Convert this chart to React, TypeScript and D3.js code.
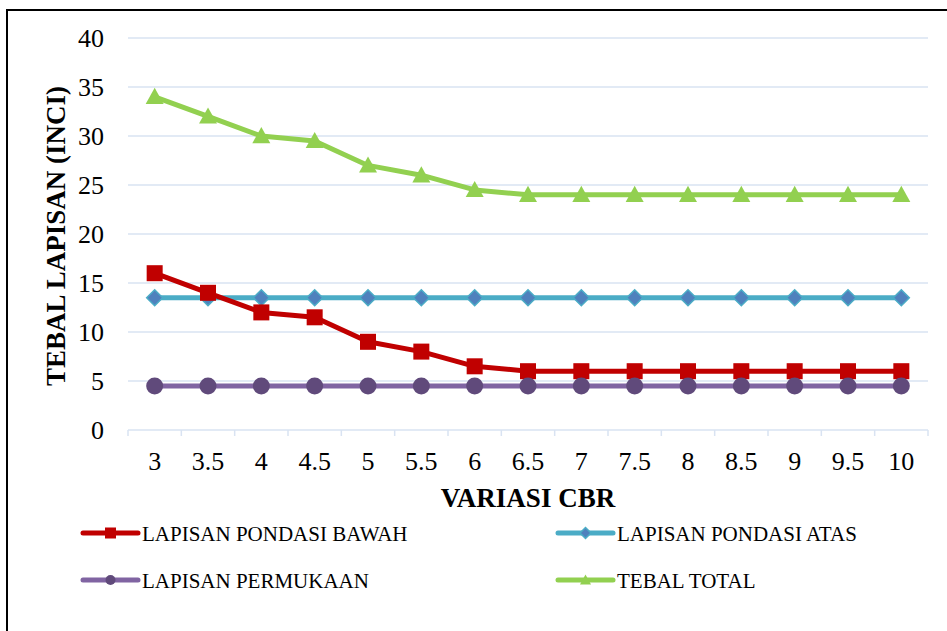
import React from 'react'
import * as d3 from 'd3'

const categories = ['3', '3.5', '4', '4.5', '5', '5.5', '6', '6.5', '7', '7.5', '8', '8.5', '9', '9.5', '10']
const pondasiBawah = [16, 14, 12, 11.5, 9, 8, 6.5, 6, 6, 6, 6, 6, 6, 6, 6]
const pondasiAtas = [13.5, 13.5, 13.5, 13.5, 13.5, 13.5, 13.5, 13.5, 13.5, 13.5, 13.5, 13.5, 13.5, 13.5, 13.5]
const permukaan = [4.5, 4.5, 4.5, 4.5, 4.5, 4.5, 4.5, 4.5, 4.5, 4.5, 4.5, 4.5, 4.5, 4.5, 4.5]
const tebalTotal = [34, 32, 30, 29.5, 27, 26, 24.5, 24, 24, 24, 24, 24, 24, 24, 24]
const yTicks = [0, 5, 10, 15, 20, 25, 30, 35, 40]

type Marker = 'square' | 'diamond' | 'circle' | 'triangle'

const series: { name: string; values: number[]; line: string; fill: string; stroke: string; marker: Marker }[] = [
  { name: 'LAPISAN PONDASI BAWAH', values: pondasiBawah, line: '#C00000', fill: '#C00000', stroke: '#C00000', marker: 'square' },
  { name: 'LAPISAN PONDASI ATAS', values: pondasiAtas, line: '#4BACC6', fill: '#4F81BD', stroke: '#4BACC6', marker: 'diamond' },
  { name: 'LAPISAN PERMUKAAN', values: permukaan, line: '#8064A2', fill: '#604A7B', stroke: '#604A7B', marker: 'circle' },
  { name: 'TEBAL TOTAL', values: tebalTotal, line: '#92D050', fill: '#92D050', stroke: '#92D050', marker: 'triangle' },
]

const font = 'Liberation Serif'

const left = 128
const right = 928
const top = 38
const bottom = 430

const x = d3.scaleBand<string>().domain(categories).range([left, right])
const y = d3.scaleLinear().domain([0, 40]).range([bottom, top])
const cx = (i: number) => (x(categories[i]) as number) + x.bandwidth() / 2
const lineGen = d3.line<number>().x((_, i) => cx(i)).y(d => y(d))

function MarkerShape({ type, x, y, size, fill, stroke }: { type: Marker; x: number; y: number; size: number; fill: string; stroke: string }) {
  const s = size / 2
  if (type === 'square') return <rect x={x - s} y={y - s} width={size} height={size} fill={fill} />
  if (type === 'diamond')
    return <path d={`M${x},${y - s}L${x + s},${y}L${x},${y + s}L${x - s},${y}Z`} fill={fill} stroke={stroke} strokeWidth={1.5} />
  if (type === 'circle') return <circle cx={x} cy={y} r={s} fill={fill} />
  return <path d={`M${x},${y - s}L${x + s},${y + s * 0.8}L${x - s},${y + s * 0.8}Z`} fill={fill} />
}

const sizes: Record<Marker, number> = { square: 16, diamond: 16, circle: 17, triangle: 18 }
const legSizes: Record<Marker, number> = { square: 11, diamond: 11, circle: 10, triangle: 11 }
const legendPos = [
  { lx: 83, ty: 533 },
  { lx: 558, ty: 533 },
  { lx: 83, ty: 580 },
  { lx: 558, ty: 580 },
]
const drawOrder = [1, 0, 2, 3]

export default function App() {
  const boundaries = categories.map(c => x(c) as number).concat([right])
  return (
    <svg width={947} height={631} style={{ position: 'absolute', left: 0, top: 0, background: '#fff' }} fontFamily={font}>
      {/* outer frame */}
      <line x1={7} x2={7} y1={9} y2={631} stroke="#000" strokeWidth={2} />
      <line x1={6} x2={947} y1={10} y2={10} stroke="#000" strokeWidth={2} />

      {/* gridlines */}
      {yTicks.filter(t => t > 0).map(t => (
        <line key={t} x1={left} x2={right} y1={y(t)} y2={y(t)} stroke="#D9E3F2" strokeWidth={1.5} />
      ))}
      {yTicks.map(t => (
        <text key={t} x={104} y={y(t) + 9} textAnchor="end" fontSize={26} fill="#000">{t}</text>
      ))}

      {/* x axis */}
      <line x1={left} x2={right} y1={bottom} y2={bottom} stroke="#D9E3F2" strokeWidth={1.5} />
      {boundaries.map((b, i) => (
        <line key={i} x1={b} x2={b} y1={bottom} y2={bottom + 6} stroke="#D9E3F2" strokeWidth={1.5} />
      ))}
      {categories.map((c, i) => (
        <text key={c} x={cx(i)} y={470} textAnchor="middle" fontSize={26} fill="#000">{c}</text>
      ))}

      <text x={528} y={507} textAnchor="middle" fontSize={27} fontWeight="bold">VARIASI CBR</text>
      <text transform="translate(65,236) rotate(-90)" textAnchor="middle" fontSize={27} fontWeight="bold">TEBAL LAPISAN (INCI)</text>

      {/* series */}
      {drawOrder.map(si => {
        const s = series[si]
        return (
          <g key={s.name}>
            <path d={lineGen(s.values) || ''} fill="none" stroke={s.line} strokeWidth={5} strokeLinejoin="round" />
            {s.values.map((v, i) => (
              <MarkerShape key={i} type={s.marker} x={cx(i)} y={y(v)} size={sizes[s.marker]} fill={s.fill} stroke={s.stroke} />
            ))}
          </g>
        )
      })}

      {/* legend */}
      {series.map((s, i) => {
        const p = legendPos[i]
        return (
          <g key={s.name}>
            <line x1={p.lx} x2={p.lx + 55} y1={p.ty} y2={p.ty} stroke={s.line} strokeWidth={5} strokeLinecap="round" />
            <MarkerShape type={s.marker} x={p.lx + 27.5} y={p.ty} size={legSizes[s.marker]} fill={s.fill} stroke={s.stroke} />
            <text x={p.lx + 59} y={p.ty + 7.5} fontSize={21} fill="#000">{s.name}</text>
          </g>
        )
      })}
    </svg>
  )
}
